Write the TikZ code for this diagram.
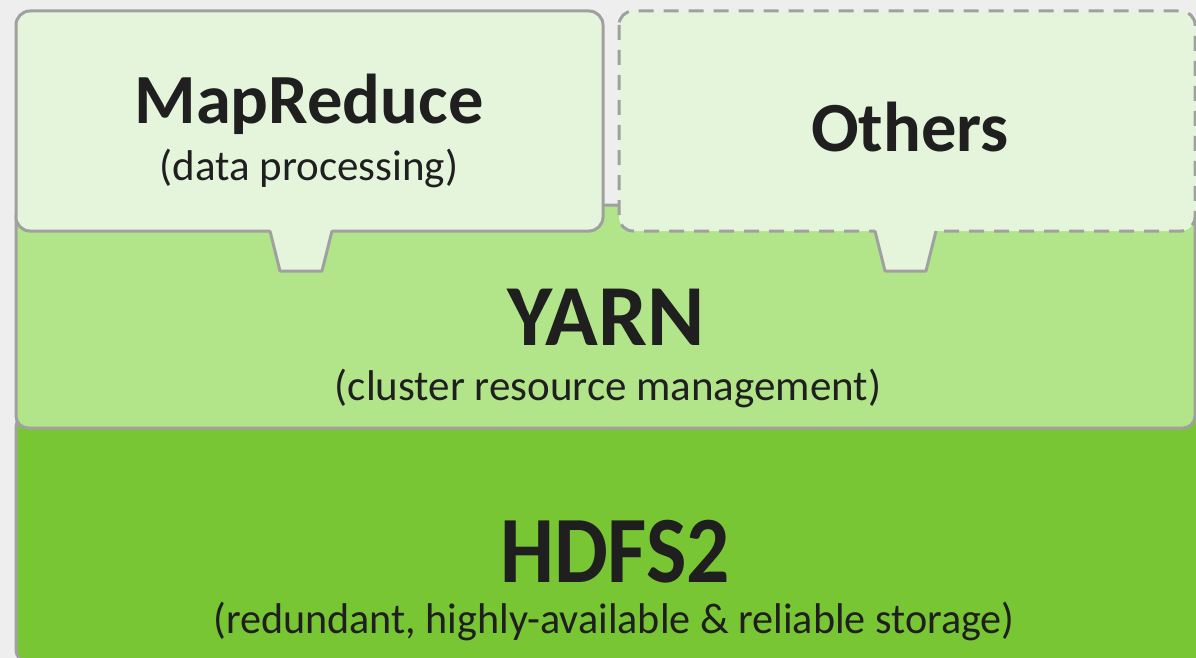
\documentclass[tikz,border=0pt]{standalone}
\usepackage{fontspec}
\setmainfont{Carlito}
\definecolor{bgc}{HTML}{EEEEEE}
\definecolor{edge}{HTML}{A0A0A0}
\definecolor{pale}{HTML}{E5F5DC}
\definecolor{mid}{HTML}{B2E589}
\definecolor{deep}{HTML}{78C634}
\definecolor{ink}{HTML}{1F1F1F}
\tikzset{
  layer/.style={draw=edge, line width=3pt, rounded corners=12pt},
  title/.style={text=ink, font=\bfseries, anchor=base, inner sep=0pt},
  note/.style={text=ink, anchor=base, inner sep=0pt},
}
\begin{document}
\begin{tikzpicture}[x=1pt,y=-1pt]
  \useasboundingbox (0,0) rectangle (1196,658);
  \fill[bgc] (0,0) rectangle (1196,658);

  % storage layer
  \draw[layer, fill=deep] (16,415) rectangle (1230,662);
  % resource management layer
  \draw[layer, fill=mid] (16,205) rectangle (1195,428);

  % MapReduce box with its tab
  \draw[layer, rounded corners=14pt, fill=pale] (16,11) rectangle (603,231);
  \fill[pale] (270,228) -- (332,228) -- (322,271) -- (280,271) -- cycle;
  \draw[draw=edge, line width=3pt, line join=round] (270,231) -- (280,271) -- (322,271) -- (332,231);

  % Others box with its tab
  \draw[layer, rounded corners=14pt, fill=pale, dash pattern=on 15pt off 10pt] (619,11) rectangle (1195,231);
  \fill[pale] (875,228) -- (936,228) -- (926,271) -- (885,271) -- cycle;
  \draw[draw=edge, line width=3pt, line join=round] (875,231) -- (885,271) -- (926,271) -- (936,231);

  % labels
  \node[title, font=\bfseries\fontsize{70.5}{70.5}\selectfont] (mr) at (309,124) {MapReduce};
  \node[note, font=\fontsize{43}{43}\selectfont] (mrsub) at (309,180) {(data processing)};
  \node[title, font=\bfseries\fontsize{70.5}{70.5}\selectfont] (oth) at (910,151) {Others};
  \node[title, font=\bfseries\fontsize{87}{87}\selectfont] (yarn) at (606,345) {YARN};
  \node[note, font=\fontsize{43}{43}\selectfont] (yarnsub) at (608,400) {(cluster resource management)};
  \node[title, font=\bfseries\fontsize{95}{95}\selectfont, xscale=0.9] (hdfs) at (615,582) {HDFS2};
  \node[note, font=\fontsize{43}{43}\selectfont, xscale=0.98] (hdfssub) at (614,633) {(redundant, highly-available \& reliable storage)};
\end{tikzpicture}
\end{document}
